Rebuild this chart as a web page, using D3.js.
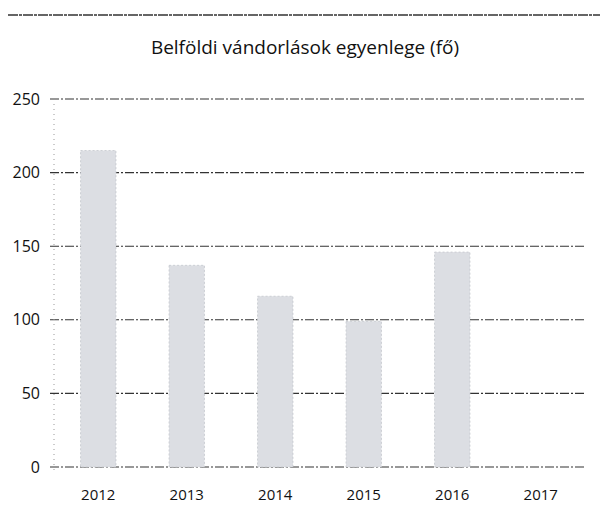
<!DOCTYPE html>
<html>
<head>
<meta charset="utf-8">
<script src="https://cdn.jsdelivr.net/npm/d3@7"></script>
<style>
  body { margin: 0; background: #fff; }
  text { font-family: "Open Sans", sans-serif; fill: #111; }
</style>
</head>
<body>
<svg id="chart" width="605" height="508"></svg>
<script>
const years = ['2012', '2013', '2014', '2015', '2016', '2017'];
const balance = [215, 137, 116, 99, 146, 0];
const yTicks = [0, 50, 100, 150, 200, 250];

const margin = {left: 54, right: 20, top: 99, bottom: 41};
const w = 605, h = 508;
const svg = d3.select('#chart');

svg.append('line')
  .attr('x1', 8).attr('x2', 600).attr('y1', 15).attr('y2', 15)
  .attr('stroke', '#333').attr('stroke-width', 1.3).attr('stroke-dasharray', '10,1,3,1');

svg.append('text')
  .attr('x', 305).attr('y', 54)
  .attr('text-anchor', 'middle')
  .style('font-size', '19px')
  .text('Belföldi vándorlások egyenlege (fő)');

const x = d3.scaleBand().domain(years)
  .range([margin.left, w - margin.right])
  .paddingInner(0.6).paddingOuter(0.3);
const y = d3.scaleLinear().domain([0, 250]).range([h - margin.bottom, margin.top]);

const g = svg.append('g');

// grid
g.selectAll('.grid').data(yTicks).enter().append('line')
  .attr('class', 'grid')
  .attr('x1', margin.left - 4).attr('x2', w - margin.right)
  .attr('y1', d => y(d)).attr('y2', d => y(d))
  .attr('stroke', '#333').attr('stroke-width', 1.1)
  .attr('stroke-dasharray', '9,2,2,2');

// faint vertical axis
g.append('line')
  .attr('x1', margin.left).attr('x2', margin.left)
  .attr('y1', y(250)).attr('y2', y(0) + 4)
  .attr('stroke', '#999').attr('stroke-dasharray', '1,4');

g.selectAll('rect').data(years).enter().append('rect')
  .attr('x', d => x(d))
  .attr('width', x.bandwidth())
  .attr('y', (d, i) => y(balance[i]))
  .attr('height', (d, i) => y(0) - y(balance[i]))
  .attr('fill', '#dcdee3')
  .attr('stroke', '#c4c7cd').attr('stroke-width', 0.8).attr('stroke-dasharray', '2,2');

const yAxis = d3.axisLeft(y).tickValues(yTicks).tickSize(0).tickPadding(14);
g.append('g')
  .attr('transform', `translate(${margin.left},0)`)
  .call(yAxis)
  .call(s => s.select('.domain').remove())
  .selectAll('text').style('font-size', '16px').attr('fill', '#111');

const xAxis = d3.axisBottom(x).tickSize(0).tickPadding(22);
g.append('g')
  .attr('transform', `translate(0,${y(0)})`)
  .call(xAxis)
  .call(s => s.select('.domain').remove())
  .selectAll('text').style('font-size', '15px').attr('fill', '#111');
</script>
</body>
</html>
